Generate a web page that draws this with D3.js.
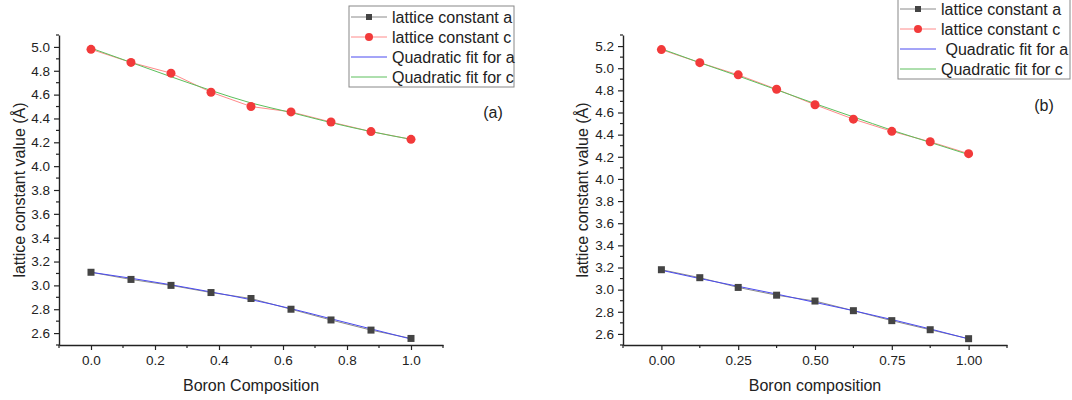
<!DOCTYPE html>
<html>
<head>
<meta charset="utf-8">
<script src="https://cdn.jsdelivr.net/npm/d3@7"></script>
<style>
  body { margin: 0; background: #fff; }
  text { font-family: "Liberation Sans", Arial, sans-serif; fill: #222; }
</style>
</head>
<body>
<div class="chart"></div>
<script>
// Boron composition (x values, same for both panels)
const composition = [0, 0.125, 0.25, 0.375, 0.5, 0.625, 0.75, 0.875, 1];

// Panel (a) values
const latticeA_a = [3.11, 3.05, 3.0, 2.94, 2.89, 2.80, 2.71, 2.625, 2.555];
const latticeC_a = [4.98, 4.87, 4.78, 4.62, 4.50, 4.455, 4.37, 4.29, 4.225];
const fitA_a = [3.11, 3.06, 3.005, 2.945, 2.88, 2.805, 2.72, 2.635, 2.55];
const fitC_a = [4.99, 4.87, 4.75, 4.635, 4.53, 4.45, 4.365, 4.29, 4.225];

// Panel (b) values
const latticeA_b = [3.18, 3.108, 3.02, 2.95, 2.897, 2.81, 2.72, 2.638, 2.557];
const latticeC_b = [5.168, 5.05, 4.94, 4.81, 4.67, 4.54, 4.43, 4.336, 4.228];
const fitA_b = [3.175, 3.10, 3.03, 2.96, 2.885, 2.81, 2.73, 2.645, 2.555];
const fitC_b = [5.175, 5.05, 4.93, 4.805, 4.68, 4.56, 4.44, 4.33, 4.22];

// Tick values
const xTicksA = [0, 0.2, 0.4, 0.6, 0.8, 1.0];
const xMinorA = [-0.1, 0.1, 0.3, 0.5, 0.7, 0.9, 1.1];
const xTicksB = [0, 0.25, 0.5, 0.75, 1.0];
const xMinorB = [-0.125, 0.125, 0.375, 0.625, 0.875, 1.125];
const yTicksA = [2.6, 2.8, 3.0, 3.2, 3.4, 3.6, 3.8, 4.0, 4.2, 4.4, 4.6, 4.8, 5.0];
const yTicksB = [2.6, 2.8, 3.0, 3.2, 3.4, 3.6, 3.8, 4.0, 4.2, 4.4, 4.6, 4.8, 5.0, 5.2];
const yMinorA = d3.range(25, 52, 2).map(d => d / 10);
const yMinorB = d3.range(25, 54, 2).map(d => d / 10);

// Legend labels
const legendLabelsA = ["lattice constant a", "lattice constant c", "Quadratic fit for a", "Quadratic fit for c"];
const legendLabelsB = ["lattice constant a", "lattice constant c", " Quadratic fit for a", "Quadratic fit for c"];

let width = 1072;
let height = 400;

let svg = d3.select(".chart").append("svg")
    .attr("width", width)
    .attr("height", height);

// colours for the four series
const colors = {
    aLine: "#8a8a8a",
    aMark: "#444444",
    cLine: "#ff8a8a",
    cMark: "#f23a3a",
    fitA: "#4a4af0",
    fitC: "#5cbf5c"
};

function drawPanel(cfg) {
    const xScale = d3.scaleLinear().domain(cfg.xDomain).range(cfg.xRange);
    const yScale = d3.scaleLinear().domain(cfg.yDomain).range(cfg.yRange);

    const g = svg.append("g");

    // minor ticks
    g.selectAll(".xminor").data(cfg.xMinor).enter().append("line")
        .attr("x1", d => xScale(d)).attr("x2", d => xScale(d))
        .attr("y1", cfg.yRange[0]).attr("y2", cfg.yRange[0] + 3)
        .attr("stroke", "#222").attr("stroke-width", 1.2);
    g.selectAll(".yminor").data(cfg.yMinor).enter().append("line")
        .attr("y1", d => yScale(d)).attr("y2", d => yScale(d))
        .attr("x1", cfg.xRange[0]).attr("x2", cfg.xRange[0] - 3)
        .attr("stroke", "#222").attr("stroke-width", 1.2);

    // x axis
    const xAxis = g.append("g")
        .attr("transform", `translate(0, ${cfg.yRange[0]})`)
        .call(d3.axisBottom(xScale).tickValues(cfg.xTicks)
            .tickFormat(d3.format(cfg.xFormat)).tickSize(5).tickSizeOuter(0).tickPadding(5));

    // y axis
    const yAxis = g.append("g")
        .attr("transform", `translate(${cfg.xRange[0]}, 0)`)
        .call(d3.axisLeft(yScale).tickValues(cfg.yTicks)
            .tickFormat(d3.format(".1f")).tickSize(5).tickSizeOuter(0).tickPadding(4));

    [xAxis, yAxis].forEach(ax => {
        ax.select(".domain").attr("stroke", "#222").attr("stroke-width", 1.4);
        ax.selectAll(".tick line").attr("stroke", "#222").attr("stroke-width", 1.2);
        ax.selectAll(".tick text")
            .style("font-family", "'Liberation Sans', Arial, sans-serif")
            .style("font-size", "13.5px").attr("fill", "#222");
    });

    // axis titles
    g.append("text")
        .attr("x", (cfg.xRange[0] + cfg.xRange[1]) / 2)
        .attr("y", 391)
        .attr("text-anchor", "middle")
        .style("font-size", "16px")
        .text(cfg.xTitle);

    g.append("text")
        .attr("transform", `translate(${cfg.yTitleX}, ${(cfg.yRange[0] + cfg.yRange[1]) / 2}) rotate(-90)`)
        .attr("text-anchor", "middle")
        .style("font-size", "16px")
        .text("lattice constant value (Å)");

    // panel tag
    g.append("text")
        .attr("x", cfg.tagX).attr("y", cfg.tagY)
        .attr("text-anchor", "middle")
        .style("font-size", "16px")
        .text(cfg.tag);

    const line = d3.line()
        .x((d, i) => xScale(composition[i]))
        .y(d => yScale(d));

    // data lines
    g.append("path").datum(cfg.a).attr("d", line)
        .attr("fill", "none").attr("stroke", colors.aLine).attr("stroke-width", 1);
    g.append("path").datum(cfg.c).attr("d", line)
        .attr("fill", "none").attr("stroke", colors.cLine).attr("stroke-width", 1);

    // fit lines
    const fitLine = d3.line()
        .curve(d3.curveMonotoneX)
        .x((d, i) => xScale(composition[i]))
        .y(d => yScale(d));
    g.append("path").datum(cfg.fitA).attr("d", fitLine)
        .attr("fill", "none").attr("stroke", colors.fitA).attr("stroke-width", 1);
    g.append("path").datum(cfg.fitC).attr("d", fitLine)
        .attr("fill", "none").attr("stroke", colors.fitC).attr("stroke-width", 1);

    // markers
    g.selectAll(".sq").data(cfg.a).enter().append("rect")
        .attr("x", (d, i) => xScale(composition[i]) - 3.5)
        .attr("y", d => yScale(d) - 3.5)
        .attr("width", 7).attr("height", 7)
        .attr("fill", colors.aMark);
    g.selectAll(".dot").data(cfg.c).enter().append("circle")
        .attr("cx", (d, i) => xScale(composition[i]))
        .attr("cy", d => yScale(d))
        .attr("r", 4.5)
        .attr("fill", colors.cMark);

    // legend
    const lg = g.append("g").attr("transform", `translate(${cfg.legend.x}, ${cfg.legend.y})`);
    lg.append("rect")
        .attr("x", 0).attr("y", 0)
        .attr("width", cfg.legend.w).attr("height", cfg.legend.h)
        .attr("fill", "#fff").attr("stroke", "#888").attr("stroke-width", 1);

    const legendStyles = [
        { stroke: colors.aLine, marker: "square" },
        { stroke: colors.cLine, marker: "circle" },
        { stroke: colors.fitA, marker: null },
        { stroke: colors.fitC, marker: null }
    ];

    cfg.legendLabels.forEach((label, i) => {
        const cy = cfg.legend.firstRow + i * 20;
        lg.append("line")
            .attr("x1", 2).attr("x2", 38)
            .attr("y1", cy).attr("y2", cy)
            .attr("stroke", legendStyles[i].stroke).attr("stroke-width", 1);
        if (legendStyles[i].marker == "square") {
            lg.append("rect").attr("x", 17).attr("y", cy - 3)
                .attr("width", 6).attr("height", 6).attr("fill", colors.aMark);
        } else if (legendStyles[i].marker == "circle") {
            lg.append("circle").attr("cx", 20).attr("cy", cy).attr("r", 4)
                .attr("fill", colors.cMark);
        }
        lg.append("text")
            .attr("x", 43).attr("y", cy + 6)
            .attr("xml:space", "preserve")
            .style("white-space", "pre")
            .style("font-size", "16px")
            .text(label);
    });
}

// Panel (a)
drawPanel({
    xDomain: [-0.1, 1.1], xRange: [59, 443],
    yDomain: [2.5, 5.1], yRange: [345, 35],
    xTicks: xTicksA, xMinor: xMinorA, xFormat: ".1f",
    yTicks: yTicksA, yMinor: yMinorA,
    a: latticeA_a, c: latticeC_a, fitA: fitA_a, fitC: fitC_a,
    xTitle: "Boron Composition", yTitleX: 25,
    tag: "(a)", tagX: 493, tagY: 118,
    legend: { x: 349, y: 6, w: 165, h: 81, firstRow: 11 },
    legendLabels: legendLabelsA
});

// Panel (b)
drawPanel({
    xDomain: [-0.125, 1.125], xRange: [623, 1007],
    yDomain: [2.5, 5.3], yRange: [345, 35],
    xTicks: xTicksB, xMinor: xMinorB, xFormat: ".2f",
    yTicks: yTicksB, yMinor: yMinorB,
    a: latticeA_b, c: latticeC_b, fitA: fitA_b, fitC: fitC_b,
    xTitle: "Boron composition", yTitleX: 588,
    tag: "(b)", tagX: 1044, tagY: 111,
    legend: { x: 898, y: -4, w: 172, h: 83, firstRow: 13 },
    legendLabels: legendLabelsB
});
</script>
</body>
</html>
